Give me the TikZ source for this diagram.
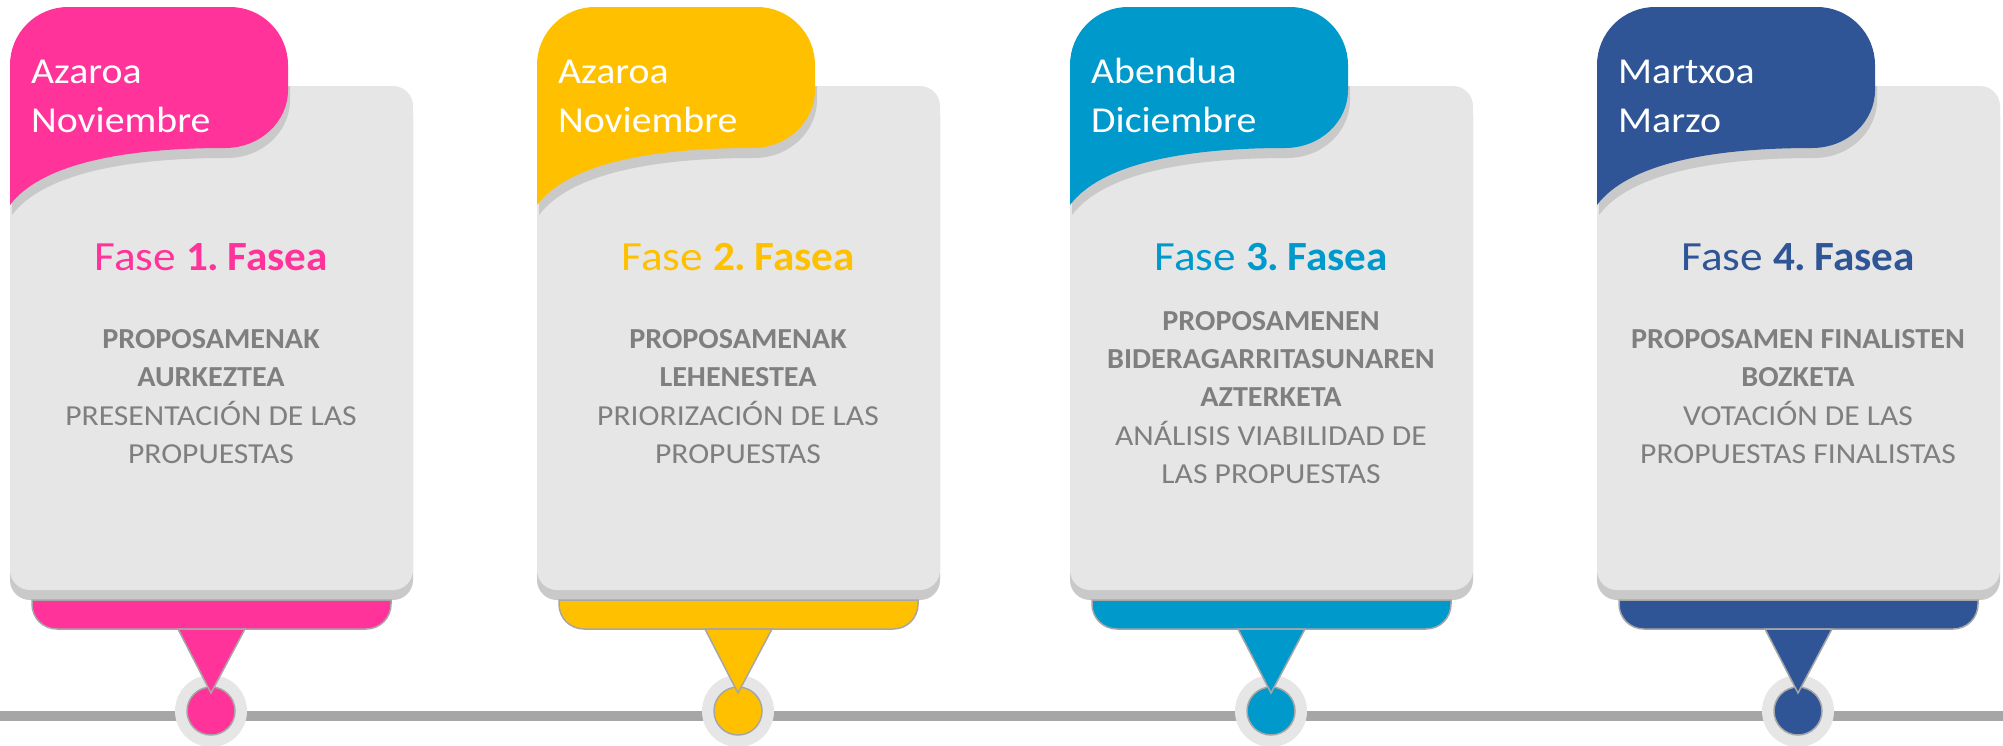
\documentclass[tikz,border=0pt]{standalone}
\usepackage{fontspec}
\setmainfont{Carlito}[FakeStretch=1.09, BoldFeatures={FakeStretch=1.04}]
\definecolor{cpink}{HTML}{FF3399}
\definecolor{cyellow}{HTML}{FFC000}
\definecolor{ccyan}{HTML}{0099CC}
\definecolor{cnavy}{HTML}{2F5597}
\definecolor{cardgrey}{HTML}{E6E6E6}
\definecolor{shadegrey}{HTML}{C9C9C9}
\definecolor{linegrey}{HTML}{A6A6A6}
\definecolor{txtgrey}{HTML}{7F7F7F}
\newcommand\mthfont{\fontsize{36.5}{46}\selectfont}
\newcommand\ttlfont{\fontsize{41.5}{48}\selectfont}
\newcommand\dscfont{\fontsize{29}{36}\selectfont}
\newcommand\fsp{\hspace{0.19em}}
\newcommand\tabpath{(0,205) .. controls (30,165) and (110,148) .. (215,148)
  .. controls (250,148) and (278,122) .. (278,90) -- (278,65)
  .. controls (278,33) and (252,7) .. (220,7) -- (58,7)
  .. controls (26,7) and (0,33) .. (0,65) -- cycle}
\tikzset{
  timeline/.style={draw=linegrey, line width=10pt},
  cardbody/.style={fill=cardgrey, rounded corners=20pt},
  cardshade/.style={fill=shadegrey, rounded corners=20pt},
  outl/.style={draw=linegrey, line width=1.5pt},
  ring/.style={circle, fill=cardgrey, minimum size=72pt, inner sep=0pt},
  dot/.style={circle, outl, minimum size=48pt, inner sep=0pt},
  mth/.style={anchor=base west, inner sep=0pt, text=white, font=\mthfont},
  ttl/.style={anchor=base, inner sep=0pt, font=\ttlfont},
  dscb/.style={anchor=base, inner sep=0pt, text=txtgrey, font=\dscfont\bfseries},
  dscr/.style={anchor=base, inner sep=0pt, text=txtgrey, font=\dscfont},
}
\newcommand\phasecard[3]{%
\begin{scope}[shift={(#1,0)}]
  \fill[cardshade] (0,96) rectangle (403,600);
  \fill[cardbody] (0,86) rectangle (403,590);
  \begin{scope}
    \clip (0,86) rectangle (403,600);
    \fill[shadegrey, shift={(2,10)}] \tabpath;
  \end{scope}
  \fill[#2] \tabpath;
  \filldraw[fill=#2, outl] (22,600) -- (22,604) .. controls (22,618) and (33,629) .. (47,629)
    -- (356,629) .. controls (370,629) and (381,618) .. (381,604) -- (381,600) -- cycle;
  \node[ring] (#3ring) at (201,711) {};
  \node[dot, fill=#2] (#3dot) at (201,711) {};
  \filldraw[fill=#2, outl, line join=miter] (168,629) -- (235,629) -- (201,693) -- cycle;
\end{scope}}
\begin{document}
\begin{tikzpicture}[x=1pt,y=-1pt]
\useasboundingbox (0,0) rectangle (2003,745);
\draw[timeline] (0,716) -- (2003,716);
\phasecard{10}{cpink}{a}
\phasecard{537}{cyellow}{b}
\phasecard{1070}{ccyan}{c}
\phasecard{1597}{cnavy}{d}
% card 1
\begin{scope}[shift={(10,0)}]
  \node[mth] (a1) at (21,83) {Azaroa};
  \node[mth] (a2) at (21,132) {Noviembre};
  \node[ttl, text=cpink] (at) at (201,270) {Fase \textbf{1.\fsp Fasea}};
  \node[dscb] (ad1) at (201,348) {PROPOSAMENAK};
  \node[dscb] (ad2) at (201,386.5) {AURKEZTEA};
  \node[dscr] (ad3) at (201,425) {PRESENTACIÓN DE LAS};
  \node[dscr] (ad4) at (201,463) {PROPUESTAS};
\end{scope}
% card 2
\begin{scope}[shift={(537,0)}]
  \node[mth] (b1) at (21,83) {Azaroa};
  \node[mth] (b2) at (21,132) {Noviembre};
  \node[ttl, text=cyellow] (bt) at (201,270) {Fase \textbf{2.\fsp Fasea}};
  \node[dscb] (bd1) at (201,348) {PROPOSAMENAK};
  \node[dscb] (bd2) at (201,386.5) {LEHENESTEA};
  \node[dscr] (bd3) at (201,425) {PRIORIZACIÓN DE LAS};
  \node[dscr] (bd4) at (201,463) {PROPUESTAS};
\end{scope}
% card 3
\begin{scope}[shift={(1070,0)}]
  \node[mth] (c1) at (21,83) {Abendua};
  \node[mth] (c2) at (21,132) {Diciembre};
  \node[ttl, text=ccyan] (ct) at (201,270) {Fase \textbf{3.\fsp Fasea}};
  \node[dscb] (cd1) at (201,330) {PROPOSAMENEN};
  \node[dscb] (cd2) at (201,368) {BIDERAGARRITASUNAREN};
  \node[dscb] (cd3) at (201,406.5) {AZTERKETA};
  \node[dscr] (cd4) at (201,445) {ANÁLISIS VIABILIDAD DE};
  \node[dscr] (cd5) at (201,483) {LAS PROPUESTAS};
\end{scope}
% card 4
\begin{scope}[shift={(1597,0)}]
  \node[mth] (d1) at (21,83) {Martxoa};
  \node[mth] (d2) at (21,132) {Marzo};
  \node[ttl, text=cnavy] (dt) at (201,270) {Fase \textbf{4.\fsp Fasea}};
  \node[dscb] (dd1) at (201,348) {PROPOSAMEN FINALISTEN};
  \node[dscb] (dd2) at (201,386.5) {BOZKETA};
  \node[dscr] (dd3) at (201,425) {VOTACIÓN DE LAS};
  \node[dscr] (dd4) at (201,463) {PROPUESTAS FINALISTAS};
\end{scope}
\end{tikzpicture}
\end{document}
